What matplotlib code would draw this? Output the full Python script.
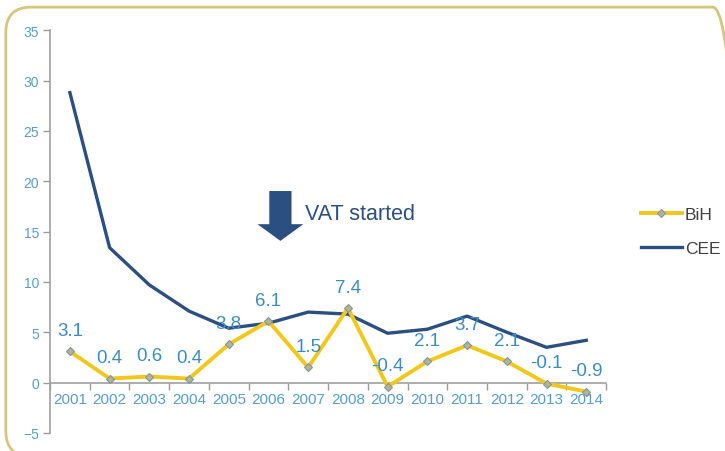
import matplotlib.pyplot as plt
from matplotlib.patches import FancyBboxPatch

# data
years = ['2001', '2002', '2003', '2004', '2005', '2006', '2007',
         '2008', '2009', '2010', '2011', '2012', '2013', '2014']
bih = [3.1, 0.4, 0.6, 0.4, 3.8, 6.1, 1.5, 7.4, -0.4, 2.1, 3.7, 2.1, -0.1, -0.9]
cee = [28.8, 13.4, 9.7, 7.1, 5.4, 5.9, 7.0, 6.8, 4.9, 5.3, 6.6, 5.0, 3.5, 4.2]

plt.rcParams['font.family'] = ['Liberation Sans', 'DejaVu Sans']

tick_col = '#5a9ccc'
lab_col = '#3d8cc6'
yellow = '#f2c71b'
navy = '#2b4f80'

fig = plt.figure(figsize=(7.25, 4.52), dpi=100)
ax = fig.add_axes([0.069, 0.040, 0.767, 0.891])

x = list(range(1, len(years) + 1))

ax.plot(x, cee, color=navy, linewidth=2.4, label='CEE', zorder=2)
ax.plot(x, bih, color=yellow, linewidth=2.8, marker='D', markersize=4,
        markerfacecolor='#b8b48a', markeredgecolor='#7d95a8', markeredgewidth=0.8,
        label='BiH', zorder=3)

# data labels
for xi, v in zip(x, bih):
    ax.annotate(f'{v:.1f}', (xi, v), xytext=(0, 9), textcoords='offset points',
                ha='center', va='bottom', fontsize=13.5, color=lab_col)

ax.set_xlim(0.5, len(years) + 0.5)
ax.set_ylim(-5, 35)
ax.set_yticks(range(-5, 36, 5))
ax.tick_params(axis='y', colors='#9a9a9a', labelcolor=tick_col, labelsize=10,
               length=5, width=1, direction='out', pad=3)

# x axis at zero, ticks between categories
ax.spines['bottom'].set_position(('data', 0))
ax.set_xticks([i + 0.5 for i in range(0, len(years) + 1)])
ax.set_xticklabels([])
ax.tick_params(axis='x', colors='#9a9a9a', length=5, width=1, direction='out')
for xi, yr in zip(x, years):
    ax.text(xi, -0.9, yr, ha='center', va='top', fontsize=11, color=tick_col)

for s in ['top', 'right']:
    ax.spines[s].set_visible(False)
ax.spines['left'].set_color('#a0a0a0')
ax.spines['bottom'].set_color('#a0a0a0')
ax.spines['left'].set_linewidth(1.2)
ax.spines['bottom'].set_linewidth(1.2)

# VAT arrow
ax.annotate('', xy=(6.3, 13.8), xytext=(6.3, 19.3),
            arrowprops=dict(arrowstyle='simple,head_width=3.3,head_length=1.2,tail_width=1.6',
                            color=navy, lw=0))
ax.text(6.92, 16.8, 'VAT started', fontsize=15.5, color=navy, va='center', ha='left')

# legend
h, l = ax.get_legend_handles_labels()
leg = fig.legend([h[1], h[0]], [l[1], l[0]], loc='center left',
                 bbox_to_anchor=(0.862, 0.486), frameon=False, fontsize=12.5,
                 handlelength=2.4, handletextpad=0.15, labelspacing=1.1)
for t in leg.get_texts():
    t.set_color('#404040')

# rounded frame
frame = FancyBboxPatch((0.008, -0.012), 1.01, 0.994, transform=fig.transFigure,
                       boxstyle='round,pad=0,rounding_size=0.035',
                       facecolor='none', edgecolor='#d8c47a', linewidth=2.0,
                       clip_on=False, mutation_aspect=725 / 452)
fig.patches.append(frame)

plt.savefig('out.png', dpi=100)
